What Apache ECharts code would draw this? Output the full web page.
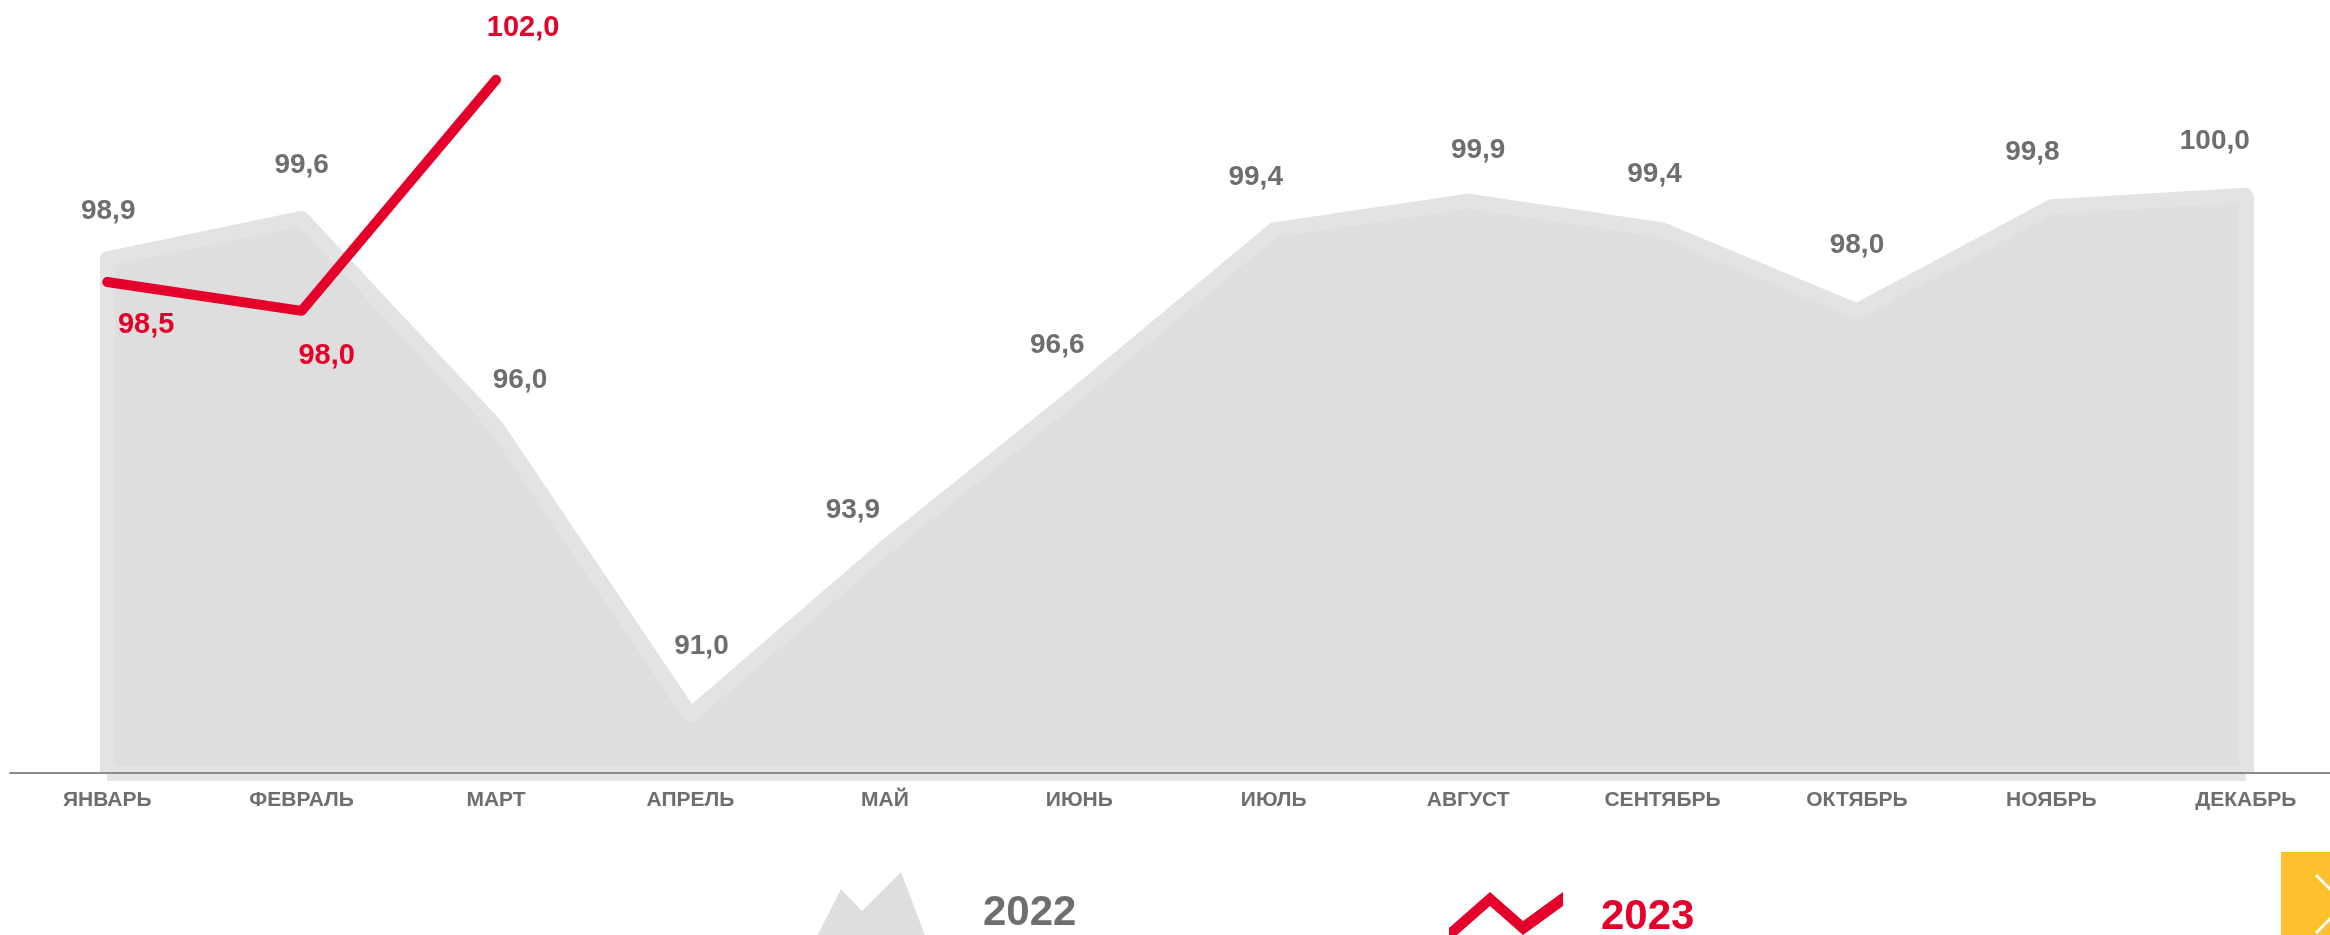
<!DOCTYPE html>
<html>
<head>
<meta charset="utf-8">
<script src="https://cdn.jsdelivr.net/npm/echarts@6/dist/echarts.min.js"></script>
<style>
  html, body { margin: 0; padding: 0; background: #fff; }
  #main { width: 2330px; height: 935px; }
</style>
</head>
<body>
<div id="main"></div>
<script>
const months = ['ЯНВАРЬ', 'ФЕВРАЛЬ', 'МАРТ', 'АПРЕЛЬ', 'МАЙ', 'ИЮНЬ', 'ИЮЛЬ', 'АВГУСТ', 'СЕНТЯБРЬ', 'ОКТЯБРЬ', 'НОЯБРЬ', 'ДЕКАБРЬ'];
const values2022 = [98.9, 99.6, 96.0, 91.0, 93.9, 96.6, 99.4, 99.9, 99.4, 98.0, 99.8, 100.0];
const values2023 = [98.5, 98.0, 102.0];
const seriesNames = ['2022', '2023'];

// label placement (px), kept apart from the data
const labelShift2022 = [[1, -48], [0, -53], [24, -46], [11, -69], [-32, -37], [-22, -46], [-18, -53], [10, -51], [-8, -56], [0, -66], [-19, -55], [-31, -54]];
const labelShift2023 = [[39, 43], [25, 45], [27, -52]];

const yMin = 90;
const yMax = 103;
const grey = '#6e6e6e';
const red = '#e4002b';
const font = '"Liberation Sans", Arial, sans-serif';

const fmt = v => v.toFixed(1).replace('.', ',');

var myChart = echarts.init(document.getElementById('main'));
myChart.setOption({
    animation: false,
    textStyle: { fontFamily: font },
    grid: {
        left: 10,
        width: 2333,
        top: 22,
        bottom: 162,
        containLabel: false,
        outerBoundsMode: 'none'
    },
    xAxis: {
        type: 'category',
        data: months,
        z: 5,
        axisTick: { show: false },
        axisLine: {
            lineStyle: { color: '#8c8c8c', width: 2 }
        },
        axisLabel: {
            color: grey,
            fontSize: 21,
            fontWeight: 'bold',
            fontFamily: font,
            margin: 17
        }
    },
    yAxis: {
        type: 'value',
        min: yMin,
        max: yMax,
        show: false,
        splitLine: { show: false }
    },
    legend: [
        {
            data: [{ name: seriesNames[0], icon: 'path://M0 82 L33 17 L54 39 L93 0 L124 82 Z' }],
            left: 808,
            top: 872,
            padding: 0,
            itemWidth: 124,
            itemHeight: 82,
            itemStyle: { color: '#dedede', borderWidth: 0 },
            textStyle: {
                color: grey,
                fontSize: 42,
                fontWeight: 'bold',
                fontFamily: font,
                padding: [0, 0, 0, 46]
            }
        },
        {
            data: [{ name: seriesNames[1], icon: 'path://M0 36 L41 0 L74 29 L114 0 L114 14 L74 43 L41 14 L0 50 Z' }],
            left: 1449,
            top: 892,
            padding: 0,
            itemWidth: 114,
            itemHeight: 50,
            itemStyle: { color: red, borderWidth: 0 },
            textStyle: {
                color: red,
                fontSize: 42,
                fontWeight: 'bold',
                fontFamily: font,
                padding: [0, 0, 0, 33]
            }
        }
    ],
    graphic: [
        {
            type: 'rect',
            shape: { x: 2281, y: 852, width: 49, height: 83 },
            style: { fill: '#fcc12d' }
        },
        {
            type: 'polyline',
            shape: { points: [[2316, 875], [2345, 904], [2316, 933]] },
            style: { stroke: '#fff', lineWidth: 3, fill: null }
        }
    ],
    series: [
        {
            name: seriesNames[0],
            type: 'line',
            data: values2022.map((v, i) => ({
                value: v,
                label: { offset: labelShift2022[i] }
            })),
            symbol: 'circle',
            symbolSize: 2,
            itemStyle: { color: '#e3e3e3' },
            lineStyle: { color: '#e3e3e3', width: 15, cap: 'round', join: 'round' },
            areaStyle: { color: '#dedede', opacity: 1 },
            label: {
                show: true,
                position: 'inside',
                color: grey,
                fontSize: 28,
                fontWeight: 'bold',
                fontFamily: font,
                formatter: p => fmt(p.value)
            },
            markLine: {
                silent: true,
                symbol: ['none', 'none'],
                label: { show: false },
                lineStyle: { color: '#e3e3e3', width: 15, type: 'solid' },
                data: [
                    [{ coord: [months[0], yMin] }, { coord: [months[0], values2022[0]] }],
                    [{ coord: [months[11], yMin] }, { coord: [months[11], values2022[11]] }],
                    [{ coord: [months[0], yMin] }, { coord: [months[11], yMin] }]
                ]
            }
        },
        {
            name: seriesNames[1],
            type: 'line',
            z: 10,
            data: values2023.map((v, i) => ({
                value: v,
                label: { offset: labelShift2023[i] }
            })),
            symbol: 'circle',
            symbolSize: 2,
            itemStyle: { color: red },
            lineStyle: { color: red, width: 10, cap: 'round', join: 'round' },
            label: {
                show: true,
                position: 'inside',
                color: red,
                fontSize: 29,
                fontWeight: 'bold',
                fontFamily: font,
                formatter: p => fmt(p.value)
            }
        }
    ]
});
</script>
</body>
</html>
